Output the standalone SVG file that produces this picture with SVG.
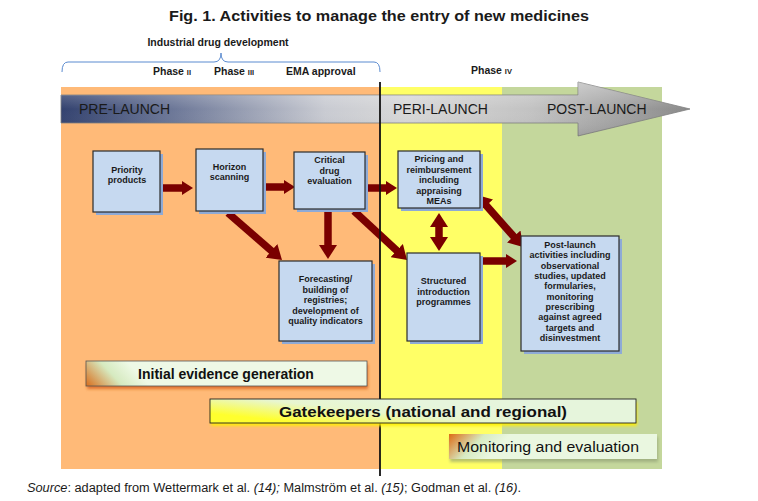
<svg xmlns="http://www.w3.org/2000/svg" width="758" height="501" viewBox="0 0 758 501">
<style>
  .title{font-family:"Liberation Sans",Arial,sans-serif;font-weight:bold;font-size:15px;fill:#1a1a1a}
  .hdr{font-family:"Liberation Sans",Arial,sans-serif;font-weight:bold;font-size:10.5px;fill:#1a1a1a}
  .phase{font-family:"Liberation Sans",Arial,sans-serif;font-size:14px;fill:#1a1a1a}
  .box{fill:#c6d9f0;stroke:#2b2b2b;stroke-width:1.2}
  .shadow{fill:#8eaad6}
  .bt{font-family:"Liberation Sans",Arial,sans-serif;font-weight:bold;font-size:9px;fill:#1a1a1a;text-anchor:middle}
  .big{font-family:"Liberation Sans",Arial,sans-serif;font-weight:bold;font-size:14px;fill:#111;text-anchor:middle}
  .conn{stroke:#7a0000;stroke-width:7.5;fill:none}
  .src{font-family:"Liberation Sans",Arial,sans-serif;font-size:12px;fill:#1a1a1a}
</style>
<defs>
  <marker id="ah" viewBox="0 0 11 14" refX="1" refY="7" markerWidth="11" markerHeight="14" markerUnits="userSpaceOnUse" orient="auto-start-reverse">
    <path d="M0,0 L11,7 L0,14 z" fill="#7a0000"/>
  </marker>
  <marker id="ahL" viewBox="0 0 14 18" refX="1" refY="9" markerWidth="14" markerHeight="18" markerUnits="userSpaceOnUse" orient="auto-start-reverse">
    <path d="M0,0 L14,9 L0,18 z" fill="#7a0000"/>
  </marker>
  <linearGradient id="arrowG" x1="0" y1="0" x2="1" y2="0">
    <stop offset="0" stop-color="#33426f"/>
    <stop offset="0.18" stop-color="#6d7898"/>
    <stop offset="0.42" stop-color="#c9cbd2"/>
    <stop offset="0.55" stop-color="#d8d8d8"/>
    <stop offset="0.75" stop-color="#c2c2c2"/>
    <stop offset="1" stop-color="#8a8a8a"/>
  </linearGradient>
  <linearGradient id="shine" x1="0" y1="0" x2="0" y2="1">
    <stop offset="0" stop-color="#ffffff" stop-opacity="0.35"/>
    <stop offset="0.5" stop-color="#ffffff" stop-opacity="0"/>
    <stop offset="1" stop-color="#000000" stop-opacity="0.1"/>
  </linearGradient>
  <linearGradient id="orangeG" gradientUnits="userSpaceOnUse" x1="86" y1="390" x2="122" y2="356">
    <stop offset="0" stop-color="#d9600a"/>
    <stop offset="0.6" stop-color="#d6eac0"/>
    <stop offset="1" stop-color="#eef9e6"/>
  </linearGradient>
  <linearGradient id="yellowG" x1="0" y1="0.6" x2="0.55" y2="0.3">
    <stop offset="0" stop-color="#ffff2e"/>
    <stop offset="0.6" stop-color="#e8f6cf"/>
    <stop offset="1" stop-color="#e6f5dc"/>
  </linearGradient>
  <linearGradient id="monG" gradientUnits="userSpaceOnUse" x1="449" y1="432" x2="482" y2="464">
    <stop offset="0" stop-color="#dd630a"/>
    <stop offset="0.6" stop-color="#d7ebc3"/>
    <stop offset="1" stop-color="#eaf7e0"/>
  </linearGradient>
  <filter id="blur" x="-10%" y="-50%" width="120%" height="200%">
    <feGaussianBlur stdDeviation="1.5"/>
  </filter>
</defs>

<!-- title -->
<text class="title" x="379" y="21" text-anchor="middle" textLength="420" lengthAdjust="spacingAndGlyphs">Fig. 1. Activities to manage the entry of new medicines</text>

<!-- header -->
<g id="header">
  <text class="hdr" x="218" y="46" text-anchor="middle">Industrial drug development</text>
  <path d="M62,72 Q62,62 68,62 L214,62 Q221,62 221,53 Q221,62 228,62 L374,62 Q380,62 380,72" fill="none" stroke="#5b8bd0" stroke-width="1"/>
  <text class="hdr" x="153" y="75">Phase <tspan font-size="7.5">II</tspan></text>
  <text class="hdr" x="214" y="75">Phase <tspan font-size="7.5">III</tspan></text>
  <text class="hdr" x="286" y="75">EMA approval</text>
  <text class="hdr" x="471" y="74">Phase <tspan font-size="7.5">IV</tspan></text>
</g>

<!-- phase backgrounds -->
<g id="background">
  <rect x="61" y="87" width="319" height="382" fill="#ffba78"/>
  <rect x="380" y="87" width="122" height="382" fill="#ffff66"/>
  <rect x="502" y="87" width="160" height="382" fill="#c4d79c"/>
</g>

<!-- timeline arrow -->
<g id="timeline">
  <polygon points="61,95 578,95 578,82 690,109 578,136 578,123 61,123" fill="url(#arrowG)" stroke="#7f7f7f" stroke-width="0.8"/>
  <polygon points="61,95 578,95 578,82 690,109 578,136 578,123 61,123" fill="url(#shine)"/>
  <text class="phase" x="79" y="114">PRE-LAUNCH</text>
  <text class="phase" x="393" y="114">PERI-LAUNCH</text>
  <text class="phase" x="547" y="114">POST-LAUNCH</text>
</g>

<!-- connectors -->
<g id="connectors">
  <line class="conn" x1="162" y1="188" x2="183" y2="188" marker-end="url(#ah)"/>
  <line class="conn" x1="266" y1="187" x2="285" y2="187" marker-end="url(#ah)"/>
  <line class="conn" x1="367" y1="188" x2="387" y2="188" marker-end="url(#ah)"/>
  <line class="conn" x1="228" y1="213" x2="272.2" y2="251.5" marker-end="url(#ahL)"/>
  <line class="conn" x1="328" y1="209" x2="328" y2="246" marker-end="url(#ahL)"/>
  <line class="conn" x1="354" y1="211" x2="397.5" y2="251.2" marker-end="url(#ahL)"/>
  <line class="conn" x1="439" y1="226" x2="439" y2="238" marker-start="url(#ahL)" marker-end="url(#ahL)"/>
  <line class="conn" x1="480" y1="261" x2="507" y2="261" marker-end="url(#ah)"/>
  <line class="conn" x1="485.6" y1="204.7" x2="514.4" y2="237.3" marker-start="url(#ahL)" marker-end="url(#ahL)"/>
</g>

<!-- divider line -->
<line x1="380" y1="82" x2="380" y2="476" stroke="#111" stroke-width="1.8"/>

<!-- nodes -->
<g id="priority">
  <rect class="shadow" x="96" y="154" width="67" height="61"/>
  <rect class="box" x="93" y="151" width="67" height="61"/>
  <text class="bt" x="127" y="173">Priority</text>
  <text class="bt" x="127" y="183">products</text>
</g>
<g id="horizon">
  <rect class="shadow" x="199" y="152" width="67" height="62"/>
  <rect class="box" x="196" y="149" width="67" height="62"/>
  <text class="bt" x="229.5" y="170">Horizon</text>
  <text class="bt" x="229.5" y="180">scanning</text>
</g>
<g id="critical">
  <rect class="shadow" x="297" y="155" width="71" height="57"/>
  <rect class="box" x="294" y="152" width="71" height="57"/>
  <text class="bt" x="329.5" y="163">Critical</text>
  <text class="bt" x="329.5" y="174">drug</text>
  <text class="bt" x="329.5" y="184">evaluation</text>
</g>
<g id="pricing">
  <rect class="shadow" x="401" y="154" width="82" height="57"/>
  <rect class="box" x="398" y="151" width="82" height="57"/>
  <text class="bt" x="439" y="162">Pricing and</text>
  <text class="bt" x="439" y="172.5">reimbursement</text>
  <text class="bt" x="439" y="183">including</text>
  <text class="bt" x="439" y="193.5">appraising</text>
  <text class="bt" x="439" y="204">MEAs</text>
</g>
<g id="forecasting">
  <rect class="shadow" x="282" y="264" width="93" height="80"/>
  <rect class="box" x="279" y="261" width="93" height="80"/>
  <text class="bt" x="325.5" y="282">Forecasting/</text>
  <text class="bt" x="325.5" y="292.5">building of</text>
  <text class="bt" x="325.5" y="303">registries;</text>
  <text class="bt" x="325.5" y="313.5">development of</text>
  <text class="bt" x="325.5" y="324">quality indicators</text>
</g>
<g id="structured">
  <rect class="shadow" x="410" y="256" width="73" height="88"/>
  <rect class="box" x="407" y="253" width="73" height="88"/>
  <text class="bt" x="443.5" y="284">Structured</text>
  <text class="bt" x="443.5" y="294.5">introduction</text>
  <text class="bt" x="443.5" y="305">programmes</text>
</g>
<g id="postlaunch">
  <rect class="shadow" x="524" y="239" width="98" height="115"/>
  <rect class="box" x="521" y="236" width="98" height="115"/>
  <text class="bt" x="570" y="248">Post-launch</text>
  <text class="bt" x="570" y="258.3">activities including</text>
  <text class="bt" x="570" y="268.7">observational</text>
  <text class="bt" x="570" y="279">studies, updated</text>
  <text class="bt" x="570" y="289.3">formularies,</text>
  <text class="bt" x="570" y="299.7">monitoring</text>
  <text class="bt" x="570" y="310">prescribing</text>
  <text class="bt" x="570" y="320.3">against agreed</text>
  <text class="bt" x="570" y="330.7">targets and</text>
  <text class="bt" x="570" y="341">disinvestment</text>
</g>

<!-- bands -->
<g id="initial">
  <rect x="87" y="364" width="281" height="25" fill="#d9631a" filter="url(#blur)" opacity="0.8"/>
  <rect x="86" y="361" width="281" height="25" fill="url(#orangeG)" stroke="#555" stroke-width="0.8"/>
  <text class="big" x="226" y="379">Initial evidence generation</text>
</g>
<g id="gatekeepers">
  <rect x="211" y="402" width="426" height="24" fill="#ffee00" filter="url(#blur)" opacity="0.9"/>
  <rect x="210" y="399" width="426" height="24" fill="url(#yellowG)" stroke="#222" stroke-width="0.9"/>
  <text class="big" x="423" y="417" textLength="288" lengthAdjust="spacingAndGlyphs">Gatekeepers (national and regional)</text>
</g>
<g id="monitoring">
  <rect x="450" y="437" width="208" height="25" fill="#8a9a70" filter="url(#blur)" opacity="0.6"/>
  <rect x="449" y="434" width="208" height="25" fill="url(#monG)"/>
  <text x="457" y="452" font-family="'Liberation Sans',Arial,sans-serif" font-size="14" fill="#111" textLength="182" lengthAdjust="spacingAndGlyphs">Monitoring and evaluation</text>
</g>

<!-- source -->
<text class="src" x="27" y="492" textLength="494" lengthAdjust="spacingAndGlyphs"><tspan font-style="italic">Source</tspan>: adapted from Wettermark et al. <tspan font-style="italic">(14);</tspan> Malmström et al. <tspan font-style="italic">(15)</tspan>; Godman et al. <tspan font-style="italic">(16)</tspan>.</text>
</svg>
